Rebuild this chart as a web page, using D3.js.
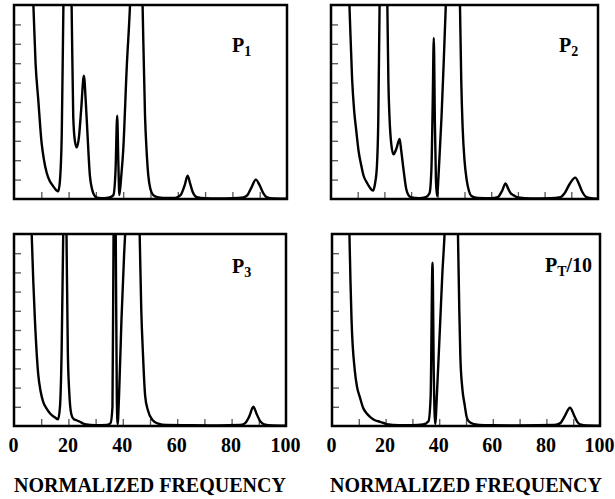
<!DOCTYPE html>
<html>
<head>
<meta charset="utf-8">
<script src="https://cdn.jsdelivr.net/npm/d3@7"></script>
<style>
  body { margin: 0; background: #fff; }
  svg { display: block; }
  text { font-family: "Liberation Serif", "Times New Roman", serif; font-weight: bold; fill: #000; }
</style>
</head>
<body>
<div id="chart"></div>
<script>
var width = 615
var height = 499

// spectra, [normalized frequency, amplitude]; >10 is off the top
var p1Points = [
  [6.5, 12], [7.1, 10], [7.9, 7], [8.9, 5.1], [10.1, 2.9], [11, 2.0], [12, 1.34], [13, 0.95],
  [14.4, 0.65], [15.5, 0.45], [16.2, 0.4], [16.8, 0.9], [17.5, 3.4], [18.1, 10], [18.6, 14],
  [20.5, 14], [21.1, 10], [21.7, 4.25], [22.3, 3.0], [23, 2.66], [23.8, 3.2], [24.6, 4.6],
  [25.6, 6.35], [26.3, 5.0], [26.9, 3.4], [27.8, 1.2], [28.6, 0.5], [29.7, 0.14], [31, 0.05],
  [33, 0.04], [35, 0.08], [36.4, 0.2], [37.2, 1.5], [37.8, 4.3], [38.2, 2.0], [38.6, 0.2],
  [39.3, 1.2], [40, 2.5], [41.3, 6.8], [42.5, 10], [43.5, 14], [46.5, 14], [47.1, 10],
  [48, 4.25], [48.6, 2.4], [49.2, 1.2], [50, 0.5], [51, 0.2], [53, 0.08], [56, 0.05],
  [59, 0.06], [61, 0.2], [62.5, 0.7], [63.6, 1.2], [64.5, 0.8], [65.5, 0.35], [67, 0.1],
  [70, 0.04], [75, 0.03], [80, 0.04], [84, 0.08], [85.5, 0.2], [87, 0.6], [88.6, 1.0],
  [90, 0.7], [91.3, 0.3], [92.5, 0.1], [95, 0.03], [100, 0.02]
]

var p2Points = [
  [6.3, 12], [6.9, 10], [7.9, 6.2], [8.7, 4.5], [9.4, 3.6], [10.3, 2.5], [11.3, 1.75],
  [12.2, 1.2], [13.2, 0.9], [14.5, 0.6], [15.7, 0.43], [16.5, 0.8], [17.2, 1.7], [17.7, 4],
  [18.2, 10], [18.7, 14], [20.6, 14], [21.1, 10], [21.5, 6], [21.9, 4.25], [22.6, 2.8],
  [23.4, 2.3], [24.5, 2.6], [25.7, 3.1], [26.3, 2.5], [27, 1.7], [28.2, 0.5], [29, 0.2],
  [30.1, 0.08], [33, 0.04], [35.5, 0.1], [36.9, 0.3], [37.6, 1.5], [38.1, 5], [38.5, 8.3],
  [38.9, 4], [39.3, 1], [39.7, 0.15], [40.5, 1.8], [41.4, 4.25], [42.2, 7], [43, 10],
  [44, 14], [47.5, 14], [48.3, 10], [48.8, 6], [49.3, 3.7], [50, 2], [50.8, 1], [51.7, 0.4],
  [52.6, 0.15], [55, 0.05], [60, 0.04], [62.5, 0.1], [64, 0.4], [65.4, 0.8], [66.3, 0.55],
  [67.3, 0.3], [68.3, 0.2], [70, 0.08], [75, 0.03], [82, 0.04], [86, 0.1], [87.5, 0.3],
  [89.5, 0.8], [91.5, 1.1], [92.8, 0.8], [94, 0.4], [95.9, 0.08], [98, 0.03], [100, 0.02]
]

var p3Points = [
  [6, 12], [6.5, 10], [7.1, 7.5], [7.7, 5.5], [8.9, 2.7], [9.8, 1.8], [10.7, 1.27],
  [12, 0.9], [13.2, 0.66], [15, 0.45], [16.2, 0.35], [16.9, 1.0], [17.5, 3.8], [18.1, 10],
  [18.6, 14], [19.0, 14], [19.3, 10], [19.8, 3.8], [20.3, 1.8], [21.1, 0.6], [22, 0.35],
  [23, 0.3], [24.2, 0.22], [26, 0.1], [30, 0.04], [34, 0.05], [35.5, 0.15], [36.2, 1],
  [36.6, 10], [37.0, 14], [37.4, 10], [37.8, 1.5], [38.1, 0.1], [38.6, 1.5], [39.5, 5.5],
  [40.5, 9], [41.6, 12], [42.5, 14], [45.5, 14], [46.2, 10], [46.8, 6], [47.4, 3.8],
  [48.2, 1.6], [49.2, 0.83], [51, 0.3], [53, 0.12], [56, 0.05], [65, 0.04], [75, 0.03],
  [83, 0.05], [85, 0.15], [86.5, 0.5], [88, 1.0], [89.3, 0.6], [90.5, 0.25], [92, 0.08],
  [95, 0.03], [100, 0.02]
]

var pTPoints = [
  [6, 12], [6.5, 10], [6.9, 7.5], [7.3, 5.5], [8.5, 2.9], [9.4, 2.0], [10.4, 1.5],
  [11.6, 0.95], [12.9, 0.66], [14.4, 0.45], [16, 0.3], [17.9, 0.22], [20.4, 0.1], [25, 0.04],
  [30, 0.04], [34, 0.08], [36, 0.25], [36.8, 1.5], [37.5, 8.5], [38.0, 2.5], [38.5, 0.1],
  [39.2, 1.8], [40.4, 5.5], [41.2, 8], [42, 10], [43, 14], [46, 14], [47, 10], [47.5, 6],
  [47.9, 3.6], [48.6, 2], [49.5, 1.1], [50.2, 0.5], [51, 0.25], [53, 0.1], [57, 0.04],
  [70, 0.03], [83, 0.05], [85.2, 0.15], [86.8, 0.5], [88.8, 0.95], [90.5, 0.5], [91.6, 0.2],
  [92.6, 0.08], [95, 0.03], [100, 0.02]
]

var panelLabels = [["P", "1", ""], ["P", "2", ""], ["P", "3", ""], ["P", "T", "/10"]]
var xTickLabels = [0, 20, 40, 60, 80, 100]
var xMinorTicks = [10, 20, 30, 40, 50, 60, 70, 80, 90]
var yMinorTicks = [1, 2, 3, 4, 5, 6, 7, 8, 9]
var xTitle = "NORMALIZED FREQUENCY"

// panel boxes on the page
var panels = [
  { data: p1Points, label: panelLabels[0], x0: 14, x1: 287, y0: 5, y1: 199, lx: 232, ly: 52, bottom: false },
  { data: p2Points, label: panelLabels[1], x0: 331, x1: 598, y0: 5, y1: 199, lx: 559, ly: 52, bottom: false },
  { data: p3Points, label: panelLabels[2], x0: 14, x1: 286, y0: 234, y1: 426, lx: 232, ly: 273, bottom: true },
  { data: pTPoints, label: panelLabels[3], x0: 332, x1: 600, y0: 234, y1: 426, lx: 545, ly: 272, bottom: true }
]

var svg = d3.select("#chart")
    .append("svg")
    .attr("width", width)
    .attr("height", height)

panels.forEach(function(p, i) {
    var x = d3.scaleLinear().domain([0, 100]).range([p.x0, p.x1])
    var y = d3.scaleLinear().domain([0, 10]).range([p.y1, p.y0])

    var g = svg.append("g")

    g.append("clipPath")
        .attr("id", "clip" + i)
        .append("rect")
        .attr("x", p.x0)
        .attr("y", p.y0)
        .attr("width", p.x1 - p.x0)
        .attr("height", p.y1 - p.y0)

    // inner ticks
    g.append("g")
        .attr("transform", "translate(0," + p.y1 + ")")
        .call(d3.axisBottom(x).tickValues(xMinorTicks).tickSize(-7).tickFormat(""))
        .call(function(a) { a.select(".domain").remove() })
        .selectAll("line").attr("stroke", "#555").attr("stroke-width", 1.3)

    g.append("g")
        .attr("transform", "translate(" + p.x0 + ",0)")
        .call(d3.axisLeft(y).tickValues(yMinorTicks).tickSize(-7).tickFormat(""))
        .call(function(a) { a.select(".domain").remove() })
        .selectAll("line").attr("stroke", "#555").attr("stroke-width", 1.3)

    var line = d3.line()
        .x(function(d) { return x(d[0]) })
        .y(function(d) { return y(d[1]) })
        .curve(d3.curveMonotoneX)

    g.append("path")
        .datum(p.data)
        .attr("clip-path", "url(#clip" + i + ")")
        .attr("fill", "none")
        .attr("stroke", "#000")
        .attr("stroke-width", 2.4)
        .attr("stroke-linejoin", "round")
        .attr("d", line)

    g.append("rect")
        .attr("x", p.x0)
        .attr("y", p.y0)
        .attr("width", p.x1 - p.x0)
        .attr("height", p.y1 - p.y0)
        .attr("fill", "none")
        .attr("stroke", "#000")
        .attr("stroke-width", 2.5)

    var t = g.append("text")
        .attr("x", p.lx)
        .attr("y", p.ly)
        .attr("font-size", 20)
    t.append("tspan").text(p.label[0])
    t.append("tspan").attr("font-size", 14).attr("dy", 4).text(p.label[1])
    if (p.label[2]) {
        t.append("tspan").attr("dy", -4).text(p.label[2])
    }

    if (p.bottom) {
        var ax = g.append("g")
            .attr("transform", "translate(-1," + p.y1 + ")")
            .call(d3.axisBottom(x).tickValues(xTickLabels).tickSize(0).tickPadding(12))
        ax.select(".domain").remove()
        ax.selectAll("text")
            .attr("font-size", 20)
            .attr("font-family", "Liberation Serif, serif")
            .attr("font-weight", "bold")
            .attr("fill", "#000")

        g.append("text")
            .attr("x", (p.x0 + p.x1) / 2)
            .attr("y", 492)
            .attr("text-anchor", "middle")
            .attr("font-size", 20)
            .attr("textLength", 272)
            .attr("lengthAdjust", "spacingAndGlyphs")
            .text(xTitle)
    }
})
</script>
</body>
</html>
